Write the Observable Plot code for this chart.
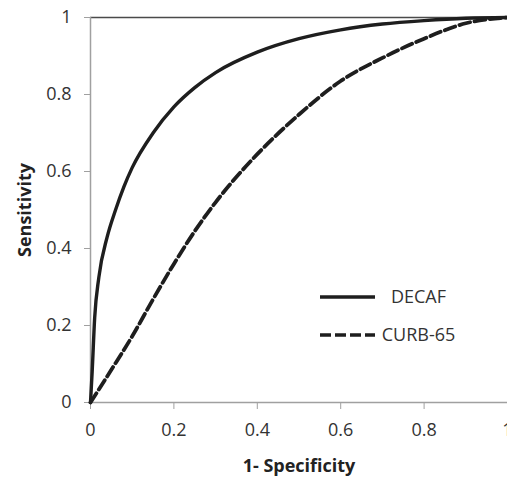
<!DOCTYPE html>
<html>
<head>
<meta charset="utf-8">
<script src="https://cdn.jsdelivr.net/npm/d3@7"></script>
<script src="https://cdn.jsdelivr.net/npm/@observablehq/plot@0.6"></script>
<style>
  html, body { margin: 0; padding: 0; background: #fff; overflow: hidden; }
  #wrap { position: relative; width: 507px; height: 477px; }
  #legend { position: absolute; left: 310px; top: 277px; }
  svg text { font-family: "Open Sans", sans-serif; }
</style>
</head>
<body>
<div id="wrap"></div>
<script>
// ROC curve data
const decafFpr = [0, 0.004, 0.01, 0.02, 0.04, 0.06, 0.08, 0.1, 0.15, 0.2, 0.25, 0.3, 0.4, 0.5, 0.6, 0.7, 0.8, 0.9, 1];
const decafTpr = [0, 0.08, 0.22, 0.325, 0.43, 0.5, 0.56, 0.61, 0.70, 0.768, 0.818, 0.857, 0.91, 0.945, 0.968, 0.983, 0.992, 0.998, 1];
const curbFpr = [0, 0.05, 0.1, 0.15, 0.2, 0.25, 0.3, 0.4, 0.5, 0.6, 0.7, 0.8, 0.9, 1];
const curbTpr = [0, 0.085, 0.172, 0.268, 0.36, 0.445, 0.52, 0.645, 0.748, 0.835, 0.895, 0.945, 0.985, 1];
const xTicks = [0, 0.2, 0.4, 0.6, 0.8, 1];
const yTicks = [0, 0.2, 0.4, 0.6, 0.8, 1];
const seriesNames = ["DECAF", "CURB-65"];

const decaf = decafFpr.map((x, i) => ({x, y: decafTpr[i]}));
const curb = curbFpr.map((x, i) => ({x, y: curbTpr[i]}));

const ink = "#1e1e1e";
const axisGray = "#a0a0a0";
const dash = "11,4.5";

const chart = Plot.plot({
  width: 507,
  height: 477,
  marginLeft: 90,
  marginRight: 0,
  marginTop: 17,
  marginBottom: 75,
  style: {fontFamily: "Open Sans, sans-serif", fontSize: "18px", color: "#333", background: "white", overflow: "visible"},
  x: {domain: [0, 1]},
  y: {domain: [0, 1]},
  marks: [
    Plot.ruleY([1], {stroke: "#4a4a4a", strokeWidth: 1.5}),
    Plot.ruleX([0], {stroke: axisGray, strokeWidth: 1.5}),
    Plot.ruleY([0], {stroke: axisGray, strokeWidth: 1.5}),
    Plot.axisX({ticks: xTicks, tickFormat: d => String(d), tickSize: 7, tickPadding: 14, stroke: axisGray,
      label: "1- Specificity", labelAnchor: "center", labelOffset: 69, fontSize: 18}),
    Plot.axisY({ticks: yTicks, tickFormat: d => String(d), tickSize: 6, tickPadding: 13, stroke: axisGray,
      label: "Sensitivity", labelAnchor: "center", labelOffset: 72, fontSize: 18}),
    Plot.line(curb, {x: "x", y: "y", stroke: ink, strokeWidth: 3.8, strokeDasharray: dash, curve: "monotone-x"}),
    Plot.line(decaf, {x: "x", y: "y", stroke: ink, strokeWidth: 3.4, curve: "monotone-x"})
  ]
});

// make axis labels bold, no arrows
chart.querySelectorAll("[aria-label='x-axis label'] text, [aria-label='y-axis label'] text").forEach(t => {
  t.setAttribute("font-weight", "bold");
  t.setAttribute("fill", "#222");
  const tsp = t.querySelectorAll("tspan");
  if (tsp.length) tsp.forEach(s => { s.textContent = s.textContent.replace(/\s*[↑→←↓]\s*/g, ""); });
  else t.textContent = t.textContent.replace(/\s*[↑→←↓]\s*/g, "");
});

const wrap = document.getElementById("wrap");
wrap.appendChild(chart);

// legend
const leg = d3.select(wrap).append("div").attr("id", "legend")
  .append("svg").attr("width", 160).attr("height", 80);
const rows = [{name: seriesNames[0], dash: null}, {name: seriesNames[1], dash: "11,4"}];
rows.forEach((r, i) => {
  const cy = 20 + i * 38;
  leg.append("line").attr("x1", 10).attr("x2", 65).attr("y1", cy).attr("y2", cy)
    .attr("stroke", ink).attr("stroke-width", 3.6)
    .attr("stroke-dasharray", r.dash);
  leg.append("text").attr("x", 108.5).attr("y", cy).attr("dy", "0.35em")
    .attr("text-anchor", "middle").attr("font-size", 18).attr("fill", "#333")
    .attr("font-family", "Open Sans, sans-serif").text(r.name);
});
</script>
</body>
</html>
